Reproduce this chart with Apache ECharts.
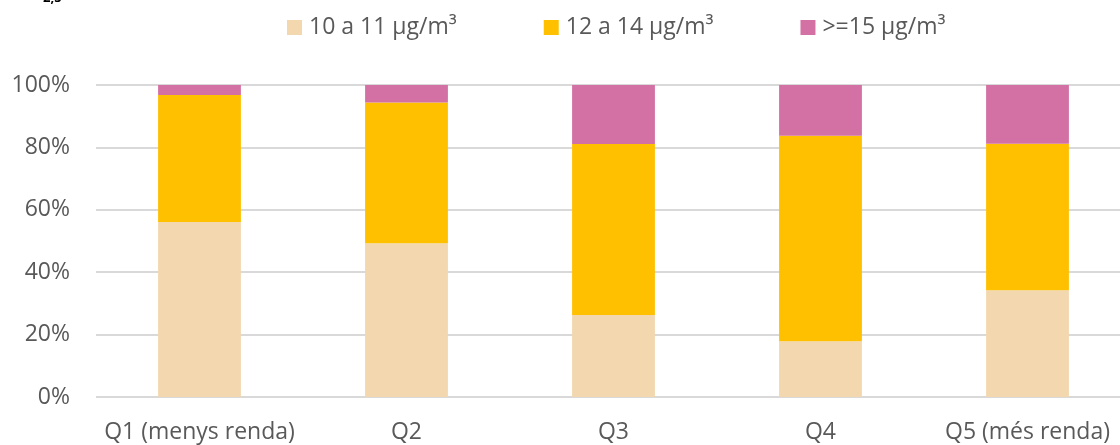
<!DOCTYPE html>
<html>
<head>
<meta charset="utf-8">
<script src="https://cdn.jsdelivr.net/npm/echarts@6/dist/echarts.min.js"></script>
<style>
html,body{margin:0;padding:0;background:#fff;}
#c{width:1120px;height:445px;}
</style>
</head>
<body>
<div id="c"></div>
<script>
const categories = ['Q1 (menys renda)', 'Q2', 'Q3', 'Q4', 'Q5 (més renda)'];
const seriesNames = ['10 a 11 µg/m³', '12 a 14 µg/m³', '>=15 µg/m³'];
const low = [56.1, 49.3, 26.3, 17.9, 34.2];
const mid = [40.7, 45.1, 54.8, 65.8, 47.0];
const high = [3.2, 5.6, 18.9, 16.3, 18.8];
const colors = ['#F2D7AF', '#FFC000', '#D370A4'];

const chart = echarts.init(document.getElementById('c'));
const font = 'Open Sans';
chart.setOption({
  animation: false,
  title: {
    text: '2,5', left: 38, top: -13,
    textStyle: {fontSize: 13, fontWeight: 'bold', color: '#000', fontFamily: font}
  },
  legend: {
    data: seriesNames,
    top: 11,
    left: 282,
    itemWidth: 15, itemHeight: 15, itemGap: 87,
    icon: 'rect',
    textStyle: {fontSize: 23, lineHeight: 23, color: '#595959', fontFamily: font, padding: [0, 0, 0, 2]}
  },
  grid: [
    {left: 96, width: 1035, top: 85, bottom: 48, containLabel: false, outerBoundsMode: 'none'},
  ],
  xAxis: [{
    type: 'category', data: categories, gridIndex: 0,
    axisLine: {show: false}, axisTick: {show: false},
    axisLabel: {fontSize: 23, color: '#595959', fontFamily: font, margin: 24, interval: 0}
  }],
  yAxis: [{
    type: 'value', min: 0, max: 100, interval: 20, gridIndex: 0,
    axisLine: {show: false}, axisTick: {show: false},
    axisLabel: {formatter: '{value}%', fontSize: 23, color: '#595959', fontFamily: font, margin: 26},
    splitLine: {lineStyle: {color: '#D9D9D9', width: 2}}
  }],
  series: [
    {name: seriesNames[0], type: 'bar', stack: 's', data: low, barWidth: '40%', itemStyle: {color: colors[0]}},
    {name: seriesNames[1], type: 'bar', stack: 's', data: mid, barWidth: '40%', itemStyle: {color: colors[1]}},
    {name: seriesNames[2], type: 'bar', stack: 's', data: high, barWidth: '40%', itemStyle: {color: colors[2]}}
  ]
});
</script>
</body>
</html>
